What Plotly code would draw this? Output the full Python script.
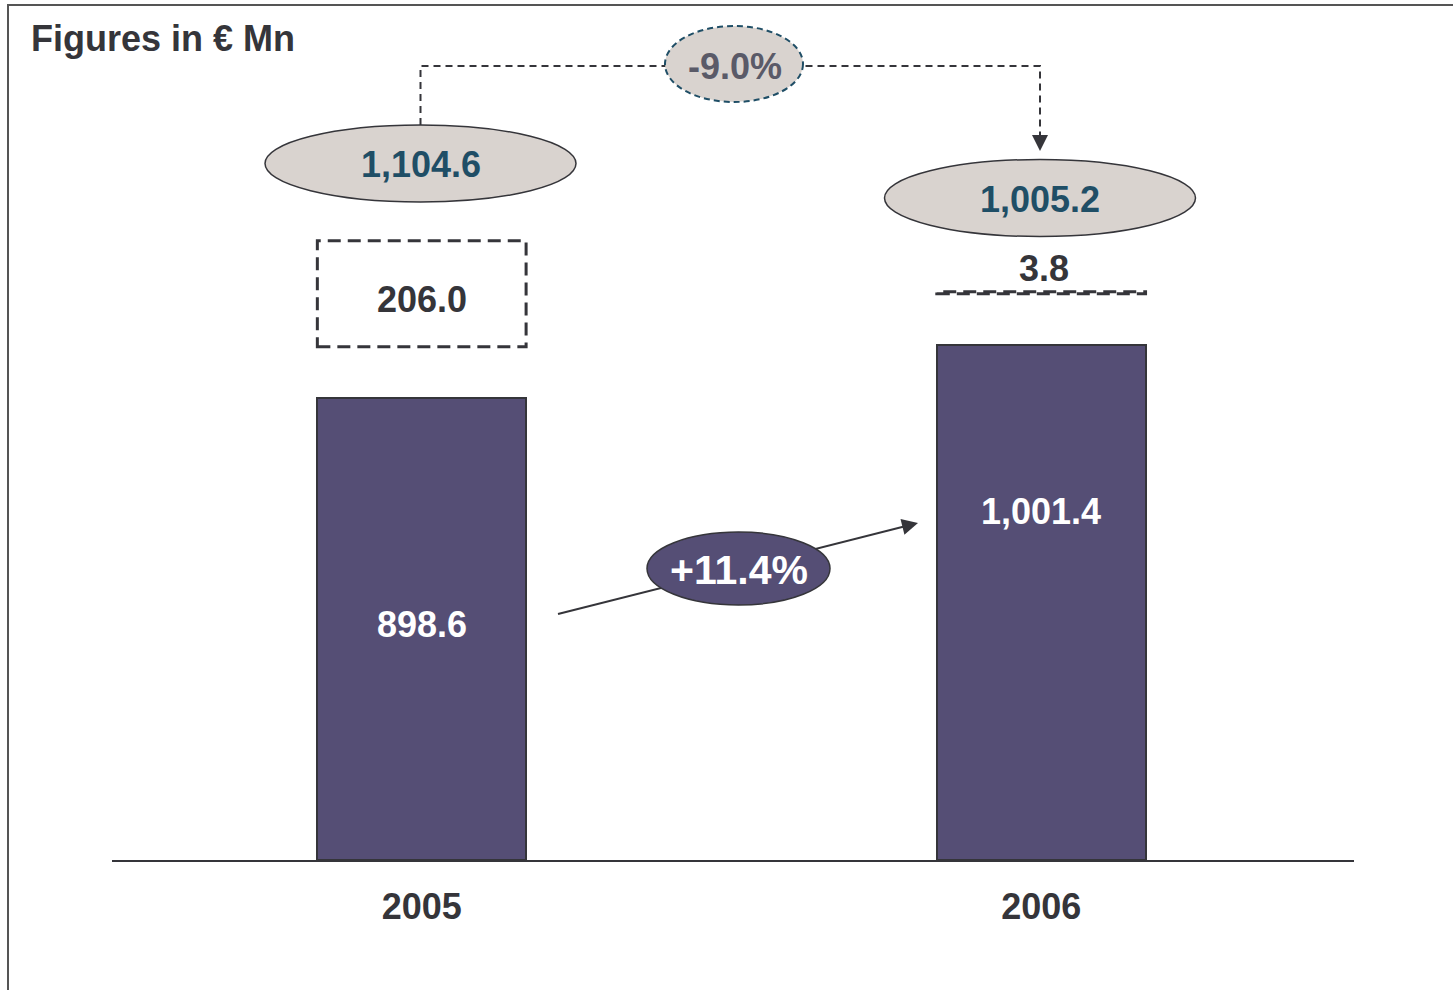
import plotly.graph_objects as go

# ---- data -------------------------------------------------------------
years = ["2005", "2006"]
core_values = [898.6, 1001.4]      # solid bars
extra_values = [206.0, 3.8]        # dashed segments above the bars
total_values = [1104.6, 1005.2]    # totals shown in the ellipses
total_change = "-9.0%"
core_change = "+11.4%"

# ---- layout constants -------------------------------------------------
W, H = 1453, 990
ML, MR, MT, MB = 112, 99, 20, 130
X_RANGE = [-0.5, 1.505]
Y_MAX = 1634
BAR_W = 0.337
GAP = 100                          # visual gap between bar and dashed segment

FONT = "Liberation Sans, Arial, Helvetica, sans-serif"
BAR_COLOR = "#554e75"
DARK = "#35353a"
TEAL = "#1f4e66"
OVAL_FILL = "#d9d3cf"

PLOT_W = W - ML - MR
PLOT_H = H - MT - MB


def xd(px):
    """screen x (px) -> data x"""
    return X_RANGE[0] + (px - ML) / PLOT_W * (X_RANGE[1] - X_RANGE[0])


def yd(py):
    """screen y (px) -> data y"""
    return (H - MB - py) / PLOT_H * Y_MAX


xs = list(range(len(years)))

fig = go.Figure()

fig.add_trace(go.Bar(
    x=xs, y=core_values, width=BAR_W,
    marker=dict(color=BAR_COLOR, line=dict(color=DARK, width=2)),
    hoverinfo="skip", showlegend=False,
))

shapes = []
annotations = []

# dashed segments stacked above the bars
for x, core, extra in zip(xs, core_values, extra_values):
    y0 = core + GAP
    shapes.append(dict(
        type="rect", xref="x", yref="y",
        x0=x - BAR_W / 2, x1=x + BAR_W / 2, y0=y0, y1=y0 + extra,
        line=dict(color=DARK, width=3, dash="13px,7px"),
        fillcolor="rgba(0,0,0,0)", layer="above",
    ))

# growth arrow between the bars (line below the oval, head added as annotation)
ax0, ay0, ax1, ay1 = 558, 614, 918, 523
shapes.append(dict(type="line", xref="x", yref="y",
                   x0=xd(ax0), y0=yd(ay0), x1=xd(ax1 - 6), y1=yd(ay1 + 1.5),
                   line=dict(color=DARK, width=2)))

# dashed connector between the two totals
path = (f"M {xd(420.5)},{yd(125)} L {xd(420.5)},{yd(66)} "
        f"L {xd(1040)},{yd(66)} L {xd(1040)},{yd(140)}")
shapes.append(dict(type="path", xref="x", yref="y", path=path,
                   line=dict(color=DARK, width=2, dash="7px,5px")))


def oval(cx, cy, w, h, fill, line):
    return dict(type="circle", xref="x", yref="y",
                x0=xd(cx - w / 2), x1=xd(cx + w / 2),
                y0=yd(cy + h / 2), y1=yd(cy - h / 2),
                fillcolor=fill, line=line, layer="above")


# total ovals
total_pos = [(420.5, 163.5), (1040, 198)]
for (cx, cy), v in zip(total_pos, total_values):
    shapes.append(oval(cx, cy, 311, 77, OVAL_FILL, dict(color=DARK, width=1.5)))
    annotations.append(dict(x=xd(cx), y=yd(cy + 1), xref="x", yref="y",
                            text=f"<b>{v:,.1f}</b>", showarrow=False,
                            font=dict(family=FONT, size=36, color=TEAL)))

# change ovals
shapes.append(oval(734, 64, 138, 76, OVAL_FILL,
                   dict(color=TEAL, width=2, dash="6px,4px")))
annotations.append(dict(x=xd(735), y=yd(66), xref="x", yref="y",
                        text=f"<b>{total_change}</b>", showarrow=False,
                        font=dict(family=FONT, size=36, color="#5a5a68")))

shapes.append(oval(738.5, 568.5, 183, 73, BAR_COLOR, dict(color=DARK, width=1.5)))
annotations.append(dict(x=xd(739), y=yd(570), xref="x", yref="y",
                        text=f"<b>{core_change}</b>", showarrow=False,
                        font=dict(family=FONT, size=41, color="white")))

# arrow heads
annotations.append(dict(x=xd(ax1), y=yd(ay1), xref="x", yref="y", text="",
                        showarrow=True, arrowhead=2, arrowsize=1.6, arrowwidth=2,
                        arrowcolor=DARK, ax=-16, ay=4, standoff=0))
annotations.append(dict(x=xd(1040), y=yd(151), xref="x", yref="y", text="",
                        showarrow=True, arrowhead=2, arrowsize=1.6, arrowwidth=2,
                        arrowcolor=DARK, ax=0, ay=-16, standoff=0))

# value labels
core_label_py = [624, 511]
for x, v, py in zip(xs, core_values, core_label_py):
    annotations.append(dict(x=x, y=yd(py), xref="x", yref="y",
                            text=f"<b>{v:,.1f}</b>", showarrow=False,
                            font=dict(family=FONT, size=36, color="white")))

extra_label_pos = [(0, 299), (1.004, 268)]
for (x, py), v in zip(extra_label_pos, extra_values):
    annotations.append(dict(x=x, y=yd(py), xref="x", yref="y",
                            text=f"<b>{v:,.1f}</b>", showarrow=False,
                            font=dict(family=FONT, size=36, color=DARK)))

# heading
annotations.append(dict(x=(29 - ML) / PLOT_W, y=1 - (38 - MT) / PLOT_H,
                        xref="paper", yref="paper", xanchor="left", yanchor="middle",
                        text="<b>Figures in € Mn</b>", showarrow=False,
                        font=dict(family=FONT, size=36, color=DARK)))

# outer frame
shapes.append(dict(type="rect", xref="paper", yref="paper",
                   x0=(8 - ML) / PLOT_W, x1=1.3,
                   y0=-0.3, y1=1 + (MT - 5) / PLOT_H,
                   line=dict(color="#555555", width=2), fillcolor="rgba(0,0,0,0)",
                   layer="below"))

fig.update_layout(
    width=W, height=H,
    margin=dict(l=ML, r=MR, t=MT, b=MB),
    paper_bgcolor="white", plot_bgcolor="white",
    shapes=shapes, annotations=annotations,
    showlegend=False, bargap=0,
    xaxis=dict(range=X_RANGE, tickvals=xs, ticktext=[f"<b>{y}</b>" for y in years],
               showgrid=False, zeroline=False, showline=True,
               linecolor=DARK, linewidth=2,
               ticks="outside", ticklen=14, tickcolor="rgba(0,0,0,0)",
               tickfont=dict(family=FONT, size=36, color=DARK), fixedrange=True),
    yaxis=dict(range=[0, Y_MAX], visible=False, fixedrange=True),
)

fig.write_html("out.html")
